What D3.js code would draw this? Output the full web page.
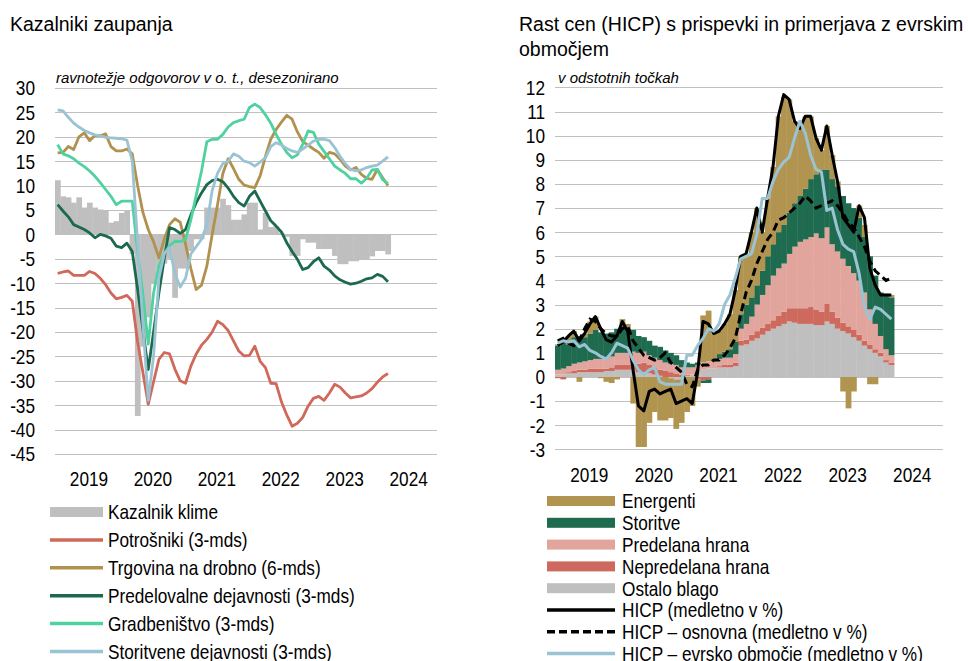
<!DOCTYPE html>
<html>
<head>
<meta charset="utf-8">
<script src="https://cdn.jsdelivr.net/npm/d3@7"></script>
<style>
    body { margin: 0; background: #ffffff; }
    text { font-family: "Liberation Sans", Arial, sans-serif; fill: #000000; }
</style>
</head>
<body>
<svg id="chart" width="968" height="661"></svg>
<script>
// ---------- data ----------
const yearLabels = ["2019", "2020", "2021", "2022", "2023", "2024"];

// left chart: Kazalniki zaupanja (Jan 2019 - Mar 2024, monthly)
const leftTicks = [30, 25, 20, 15, 10, 5, 0, -5, -10, -15, -20, -25, -30, -35, -40, -45];
const klima = [11.1, 7.8, 7.6, 6.5, 7.6, 5.5, 6.5, 5.5, 5.1, 4.8, 2.4, 2.7,
    4.4, 4.8, -4, -37.2, -23, -17, -10, -7, -6, -5, -13, -7,
    -7, -3.4, -1, -1, 5.5, 5.5, 5.5, 7.3, 6, 3, 3, 4.1,
    6.5, 6.5, 1, 4.4, 1.5, 1.7, 0.3, -0.5, -4.4, -4.4, -1, -1.7,
    -1.7, -3, -3, -3, -4.4, -6.1, -6.1, -5.5, -5.5, -5.1, -5.1, -4.5,
    -3.4, -3.4, -4.1];
const potrosniki = [-8.0, -7.7, -7.5, -8.4, -8.4, -8.4, -7.6, -8.0, -9.0, -10.3, -12, -13.2,
    -12.9, -12.5, -13.7, -22, -28.3, -34.8, -30.2, -25.6, -24.2, -24.5, -27.6, -30,
    -30.5, -27, -24.5, -22.7, -21.5, -20, -17.8, -18.5, -19.7, -21.8, -23.9, -24.9,
    -24.8, -22.9, -26, -27.3, -30.5, -30.6, -34.3, -37, -39.3, -38.7, -37.5, -35.2,
    -33.6, -33.2, -34, -32.5, -30.7, -31.3, -32.5, -33.5, -33.3, -33.1, -32.5, -31.6,
    -30.3, -29.2, -28.5];
const trgovina = [16.7, 16.8, 18, 17.4, 20, 20.8, 19.2, 20.3, 20.2, 20.6, 18, 17.1,
    17.1, 17.5, 16.5, 10, 4.5, 1, -1.5, -4.8, -1, 2, 3.2, 2.5,
    -2, -7, -11.3, -10.4, -6.5, 0, 6, 12.5, 15.5, 13.5, 11.3, 10.1,
    9.8, 9.6, 12, 16, 19.5, 21.5, 23, 24.4, 23.6, 21, 19, 18.3,
    17.5, 16.8, 15.6, 16.8, 16.5, 15.4, 14, 13.2, 13.7, 12.3, 11.5, 11.3,
    13.3, 11.6, 10];
const predelovalne = [6.1, 4.8, 3.6, 2.0, 1.5, 1.0, 0.3, -0.7, 0, -0.3, -0.8, -2.4,
    -2.7, -1.8, -3.5, -11.2, -19.5, -27.7, -20, -12, -5, 1.4, 1.0, 0.2,
    1.0, 4, 6.5, 8.5, 10.2, 11, 11.3, 10.8, 9.5, 7.8, 6.5, 5.8,
    7.8, 8.9, 6.8, 4.8, 2.8, 1.7, 0.5, -1.7, -3.5, -5.1, -7.2, -6.8,
    -5.6, -4.8, -6.5, -7.3, -8.5, -9.3, -9.8, -10.2, -10, -9.6, -9.1, -8.9,
    -8.2, -8.6, -9.7];
const gradbenistvo = [18.4, 16.5, 16.1, 15.5, 14.6, 13.9, 13, 11.9, 10.6, 9.2, 7.8, 6.1,
    6.8, 6.8, 6.8, -3.4, -12.3, -22.5, -12, -6.5, -4, -2.3, -1.4, -1.5,
    -1.0, 3, 8, 13, 19, 19.5, 19.5, 20.5, 22, 22.9, 23.3, 23.6,
    26, 26.7, 26, 24.5, 22.8, 20.5, 18.5, 16.8, 15.7, 16.3, 18.5, 21.2,
    20.9, 18.5, 17, 15.5, 14, 13.2, 12.5, 11.4, 11.4, 10.5, 11.5, 13.2,
    13.3, 11.2, 10.4];
const storitvene = [25.5, 25.3, 24, 22.8, 22, 21.3, 20.8, 20.4, 20.2, 19.9, 19.8, 19.7,
    19.6, 19.3, 15, -1.5, -18.4, -34, -25, -9, -4, -2.7, -8, -10.8,
    -9, -4, -2.5, -1, 2, 9, 12.5, 14.5, 15, 16.5, 16, 15,
    14.7, 14, 14.8, 15.7, 18, 18.8, 18.3, 17.6, 17.1, 16.8, 17.5, 18.3,
    19.1, 19.5, 19.5, 19.2, 17.8, 16, 14.5, 13.3, 13, 13.2, 13.7, 14,
    14.2, 15, 15.9];

const leftLineNames = ["Potrošniki (3-mds)", "Trgovina na drobno (6-mds)", "Predelovalne dejavnosti (3-mds)",
    "Gradbeništvo (3-mds)", "Storitvene dejavnosti (3-mds)"];
const leftLineColors = ["#d0695a", "#b1914e", "#1b6a4e", "#4fd1a0", "#9ac3d4"];
const leftLines = [potrosniki, trgovina, predelovalne, gradbenistvo, storitvene];

// right chart: Rast cen (HICP) s prispevki
const rightTicks = [12, 11, 10, 9, 8, 7, 6, 5, 4, 3, 2, 1, 0, -1, -2, -3];
const ostalo = [0.1, 0.1, 0.15, 0.15, 0.2, 0.2, 0.2, 0.2, 0.2, 0.25, 0.25, 0.3,
    0.3, 0.3, 0.3, 0.2, 0.2, 0.15, 0.1, 0.05, 0.0, -0.05, -0.1, -0.1,
    0.05, 0.1, 0.2, 0.3, 0.35, 0.35, 0.4, 0.4, 0.4, 0.45, 1.3, 1.35,
    1.5, 1.6, 1.75, 1.9, 2.0, 2.1, 2.2, 2.3, 2.25, 2.2, 2.2, 2.2,
    2.15, 2.15, 2.3, 2.2, 2.0, 1.9, 1.8, 1.65, 1.5, 1.3, 1.15, 1.0,
    0.85, 0.6, 0.5];
const nepredelana = [-0.05, -0.1, 0.05, 0.1, 0.1, 0.1, 0.15, 0.15, 0.15, 0.1, 0.15, 0.2,
    0.2, 0.2, 0.25, 0.35, 0.4, 0.35, 0.3, 0.25, 0.25, 0.2, 0.15, 0.1,
    0.05, 0.0, -0.1, -0.15, -0.1, 0.0, 0.05, 0.1, 0.1, 0.15, 0.2, 0.2,
    0.25, 0.3, 0.3, 0.3, 0.35, 0.45, 0.5, 0.55, 0.6, 0.65, 0.65, 0.7,
    0.65, 0.55, 0.75, 0.5, 0.45, 0.35, 0.3, 0.3, 0.25, 0.2, 0.2, 0.15,
    0.15, 0.1, 0.1];
const predelana = [0.2, 0.25, 0.25, 0.3, 0.3, 0.35, 0.35, 0.4, 0.4, 0.45, 0.45, 0.5,
    0.5, 0.5, 0.5, 0.45, 0.45, 0.4, 0.4, 0.4, 0.35, 0.35, 0.35, 0.3,
    0.3, 0.3, 0.3, 0.3, 0.3, 0.3, 0.3, 0.3, 0.3, 0.35, 0.5, 0.65,
    0.75, 1.1, 1.35, 1.6, 1.85, 1.95, 2.0, 2.25, 2.55, 2.75, 2.85, 2.9,
    3.15, 3.05, 3.15, 2.8, 2.75, 2.65, 2.5, 2.35, 2.25, 2.0, 1.45, 1.05,
    0.7, 0.45, 0.3];
const storitve = [1.0, 1.1, 0.9, 1.1, 1.1, 1.0, 1.1, 1.2, 1.1, 1.0, 1.0, 1.0,
    1.1, 1.0, 0.9, 0.7, 0.6, 0.6, 0.5, 0.55, 0.5, 0.45, 0.4, 0.3,
    0.2, 0.15, 0.1, -0.1, -0.15, 0.1, 0.2, 0.25, 0.35, 0.5, 0.6, 0.8,
    0.8, 0.8, 1.0, 1.2, 1.3, 1.5, 1.6, 1.7, 1.8, 1.9, 2.1, 2.4,
    2.45, 2.85, 2.4, 2.7, 2.7, 2.6, 2.6, 2.7, 2.6, 2.3, 2.2, 2.0,
    1.8, 2.25, 2.4];
const energenti = [0.05, 0.15, 0.35, 0.25, -0.2, 0.15, 0.5, 0.55, -0.05, -0.2, -0.25, -0.1,
    0.3, 0.2, -1.1, -2.9, -2.9, -1.9, -1.45, -1.8, -1.8, -1.65, -2.05, -1.8,
    -1.45, -1.2, -0.3, 1.95, 2.1, 1.05, 0.95, 1.15, 1.45, 2.15, 2.4, 2.1,
    2.7, 3.2, 1.6, 2.4, 3.2, 4.8, 5.3, 4.7, 3.4, 2.8, 3.0, 2.6,
    1.5, 0.8, 1.8, 1.0, 0.2, -0.6, -1.3, -0.6, 0.5, 0.5, -0.3, -0.3,
    0.0, 0.05, 0.1];
const hicp = [1.3, 1.45, 1.7, 1.9, 1.5, 1.8, 2.2, 2.5, 2.0, 1.55, 1.45, 1.7,
    2.3, 1.9, 0.3, -1.2, -1.4, -0.6, -0.5, -0.7, -0.6, -0.5, -1.1, -1.0,
    -0.9, -1.1, 0.2, 2.3, 2.2, 1.8, 1.9, 2.2, 2.6, 3.6, 5.0, 5.1,
    6.0, 7.0, 6.0, 7.4, 8.7, 10.8, 11.7, 11.5, 10.6, 10.3, 10.8, 10.8,
    9.9, 9.4, 10.4, 9.2, 8.1, 6.6, 6.3, 6.0, 7.1, 6.6, 4.5, 3.8,
    3.4, 3.4, 3.4];
const osnovna = [1.5, 1.6, 1.4, 1.3, 1.5, 2.0, 2.4, 2.3, 2.0, 1.8, 1.7, 1.7,
    2.0, 2.1, 1.5, 1.2, 0.9, 0.8, 0.7, 0.8, 1.0, 0.6, 0.4, 0.2,
    -0.3, -0.4, 0.3, 0.5, 0.5, 0.7, 0.7, 0.9, 1.2, 1.6, 2.6, 3.5,
    4.0, 4.7, 5.2, 5.7, 6.0, 6.5, 6.6, 6.8, 7.0, 7.2, 7.5, 7.3,
    7.0, 7.1, 7.2, 7.3, 7.1, 6.8, 6.4, 6.2, 5.8, 5.4, 4.8, 4.4,
    4.2, 4.0, 4.1];
const evro = [1.4, 1.5, 1.45, 1.5, 1.25, 1.35, 1.1, 1.0, 0.85, 0.75, 1.0, 1.4,
    1.3, 1.2, 0.7, 0.3, 0.1, 0.3, 0.4, -0.2, -0.3, -0.3, -0.3, -0.3,
    0.9, 0.9, 1.3, 1.6, 2.0, 1.9, 2.2, 3.0, 3.4, 4.1, 4.9, 5.0,
    5.1, 5.9, 7.4, 7.4, 8.1, 8.6, 8.9, 9.1, 9.9, 10.6, 10.1, 9.2,
    8.6, 8.5, 6.9, 7.0, 6.1, 5.5, 5.3, 5.2, 4.3, 2.9, 2.4, 2.9,
    2.8, 2.6, 2.4];

const stackKeys = ["ostalo", "nepredelana", "predelana", "storitve", "energenti"];
const stackColors = {ostalo: "#bfbfbf", nepredelana: "#cd6a5d", predelana: "#e1a59d",
    storitve: "#1f6b50", energenti: "#b19450"};
const rightLegendNames = ["Energenti", "Storitve", "Predelana hrana", "Nepredelana hrana", "Ostalo blago",
    "HICP (medletno v %)", "HICP – osnovna (medletno v %)", "HICP – evrsko območje (medletno v %)"];

// ---------- helpers ----------
const svg = d3.select("#chart");
const gridColor = "#c0c0c0";
const narrow = 0.82; // squeeze to mimic a narrow sans face

function narrowText(g, x, y, str, anchor) {
    return g.append("text")
        .attr("transform", `translate(${x},${y}) scale(${narrow},1)`)
        .attr("text-anchor", anchor)
        .attr("dy", "0.35em")
        .style("font-size", "21px")
        .text(str);
}

function crisp(v) {
    return Math.round(v) + 0.5;
}

// ---------- left chart ----------
const xL = d3.scaleBand().domain(d3.range(72)).range([55, 438.6]);
const yL = d3.scaleLinear().domain([-45, 30]).range([454, 88]);
const left = svg.append("g");

svg.append("text").attr("x", 10).attr("y", 31).style("font-size", "19.5px").text("Kazalniki zaupanja");
svg.append("text").attr("x", 56).attr("y", 83).style("font-size", "15px").style("font-style", "italic")
    .text("ravnotežje odgovorov v o. t., desezonirano");

left.selectAll("line.grid")
    .data(leftTicks)
    .join("line")
    .attr("class", "grid")
    .attr("x1", 55).attr("x2", 437)
    .attr("y1", d => crisp(yL(d))).attr("y2", d => crisp(yL(d)))
    .attr("stroke", gridColor).attr("stroke-width", 1);

leftTicks.forEach(function (t) {
    narrowText(left, 35, yL(t), String(t), "end");
});

yearLabels.forEach(function (yr, k) {
    narrowText(left, xL(k * 12) + 6 * xL.bandwidth() + 2, 479, yr, "middle");
});

left.selectAll("rect.klima")
    .data(klima)
    .join("rect")
    .attr("class", "klima")
    .attr("x", (d, i) => xL(i))
    .attr("width", xL.bandwidth() + 0.4)
    .attr("y", d => yL(Math.max(0, d)))
    .attr("height", d => Math.abs(yL(d) - yL(0)))
    .attr("fill", "#bfbfbf");

const lineL = d3.line()
    .x((d, i) => xL(i) + xL.bandwidth() / 2)
    .y(d => yL(d));

leftLines.forEach(function (series, k) {
    left.append("path")
        .datum(series)
        .attr("d", lineL)
        .attr("fill", "none")
        .attr("stroke", leftLineColors[k])
        .attr("stroke-width", 2.8)
        .attr("stroke-linejoin", "round");
});

// left legend
const legL = svg.append("g");
const legLStep = 27.9;
legL.append("rect").attr("x", 50).attr("y", 507).attr("width", 53).attr("height", 10).attr("fill", "#bfbfbf");
narrowText(legL, 108, 512, "Kazalnik klime", "start");
leftLineNames.forEach(function (name, k) {
    const y = 512 + (k + 1) * legLStep;
    legL.append("line").attr("x1", 50).attr("x2", 103).attr("y1", y).attr("y2", y)
        .attr("stroke", leftLineColors[k]).attr("stroke-width", 3.5);
    narrowText(legL, 108, y, name, "start");
});

// ---------- right chart ----------
const xR = d3.scaleBand().domain(d3.range(72)).range([555, 942.5]);
const yR = d3.scaleLinear().domain([-3, 12]).range([449.4, 87.4]);
const right = svg.append("g");

svg.append("text").attr("x", 519).attr("y", 31).style("font-size", "19.5px")
    .text("Rast cen (HICP) s prispevki in primerjava z evrskim");
svg.append("text").attr("x", 519).attr("y", 56).style("font-size", "19.5px").text("območjem");
svg.append("text").attr("x", 558).attr("y", 83).style("font-size", "15px").style("font-style", "italic")
    .text("v odstotnih točkah");

right.selectAll("line.grid")
    .data(rightTicks)
    .join("line")
    .attr("class", "grid")
    .attr("x1", 555).attr("x2", 943)
    .attr("y1", d => crisp(yR(d))).attr("y2", d => crisp(yR(d)))
    .attr("stroke", gridColor).attr("stroke-width", 1);

rightTicks.forEach(function (t) {
    narrowText(right, 545, yR(t), String(t), "end");
});

yearLabels.forEach(function (yr, k) {
    narrowText(right, xR(k * 12) + 6 * xR.bandwidth() + 2, 475, yr, "middle");
});

const rows = d3.range(hicp.length).map(i => ({
    ostalo: ostalo[i], nepredelana: nepredelana[i], predelana: predelana[i],
    storitve: storitve[i], energenti: energenti[i]
}));
const stacked = d3.stack().keys(stackKeys).offset(d3.stackOffsetDiverging)(rows);

right.selectAll("g.layer")
    .data(stacked)
    .join("g")
    .attr("class", "layer")
    .attr("fill", d => stackColors[d.key])
    .selectAll("rect")
    .data(d => d)
    .join("rect")
    .attr("x", (d, i) => xR(i))
    .attr("width", xR.bandwidth() + 0.4)
    .attr("y", d => yR(Math.max(d[0], d[1])))
    .attr("height", d => Math.abs(yR(d[0]) - yR(d[1])));

const lineR = d3.line()
    .x((d, i) => xR(i) + xR.bandwidth() / 2)
    .y(d => yR(d));

right.append("path").datum(hicp).attr("d", lineR)
    .attr("fill", "none").attr("stroke", "#000").attr("stroke-width", 3).attr("stroke-linejoin", "round");
right.append("path").datum(osnovna).attr("d", lineR)
    .attr("fill", "none").attr("stroke", "#000").attr("stroke-width", 3).attr("stroke-dasharray", "8,4.5");
right.append("path").datum(evro).attr("d", lineR)
    .attr("fill", "none").attr("stroke", "#9ac3d4").attr("stroke-width", 3).attr("stroke-linejoin", "round");

// right legend
const legR = svg.append("g");
const legRStep = 21.8;
const legRSwatch = [
    {type: "bar", color: stackColors.energenti},
    {type: "bar", color: stackColors.storitve},
    {type: "bar", color: stackColors.predelana},
    {type: "bar", color: stackColors.nepredelana},
    {type: "bar", color: stackColors.ostalo},
    {type: "line", color: "#000"},
    {type: "dash", color: "#000"},
    {type: "line", color: "#9ac3d4"}
];
rightLegendNames.forEach(function (name, k) {
    const y = 501 + k * legRStep;
    const sw = legRSwatch[k];
    if (sw.type === "bar") {
        legR.append("rect").attr("x", 547).attr("y", y - 5).attr("width", 68).attr("height", 10).attr("fill", sw.color);
    } else {
        legR.append("line").attr("x1", 547).attr("x2", 615).attr("y1", y).attr("y2", y)
            .attr("stroke", sw.color).attr("stroke-width", 3.5)
            .attr("stroke-dasharray", sw.type === "dash" ? "8,4" : null);
    }
    narrowText(legR, 622, y, name, "start");
});
</script>
</body>
</html>
